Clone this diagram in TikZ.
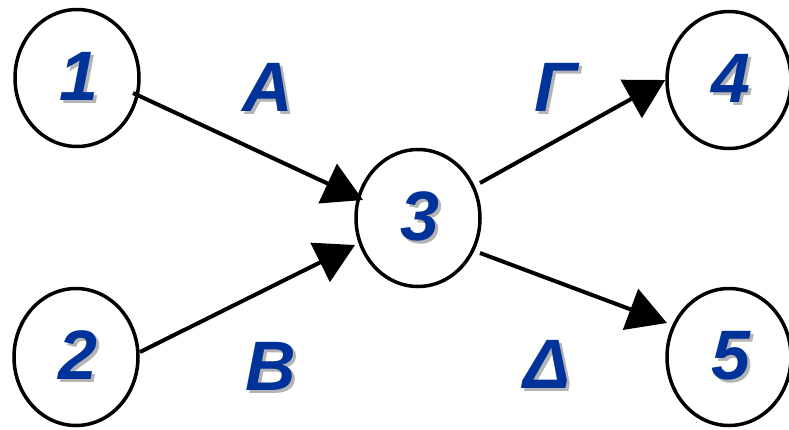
\documentclass[tikz,border=0pt]{standalone}
\usepackage{fontspec}
\setmainfont{Liberation Sans}
\usetikzlibrary{shapes.geometric,arrows.meta,calc}
\definecolor{nblue}{HTML}{003399}
\definecolor{shadowgray}{HTML}{B4B4B4}
\newcommand\shd[1]{\makebox[0pt][l]{\hspace{3pt}\raisebox{-3pt}{\color{shadowgray}#1}}{\color{nblue}#1}}
\newcommand\nshd[1]{\hspace{4pt}\raisebox{-3pt}{\shd{#1}}}
\tikzset{
  stnode/.style={ellipse, draw=black, line width=3.5pt, minimum width=124pt, minimum height=137pt, inner sep=0pt,
    font=\fontsize{70}{70}\selectfont\bfseries\itshape},
  lbltext/.style={inner sep=0pt, font=\fontsize{70}{70}\selectfont\bfseries\itshape},
  conn/.style={line width=4pt, -{Triangle[length=39pt,width=43pt]}}
}
\begin{document}
\begin{tikzpicture}[x=1pt,y=-1pt]
\useasboundingbox (0,0) rectangle (789,429);
\clip (0,0) rectangle (789,429);
\node[stnode] (n1) at (77,78) {\nshd{1}};
\node[stnode] (n2) at (76,357) {\nshd{2}};
\node[stnode] (n3) at (418,218) {\nshd{3}};
\node[stnode] (n4) at (729,80) {\nshd{4}};
\node[stnode] (n5) at (729,357) {\nshd{5}};
\node[lbltext] (la) at (268,89) {\shd{A}};
\node[lbltext] (lb) at (271,368) {\shd{B}};
\node[lbltext] (lg) at (556,89) {\shd{Γ}};
\node[lbltext] (ld) at (547,366) {\shd{Δ}};
\draw[conn] ($(n1.center)+(56,15)$) -- ($(n3.center)+(-55,-18)$);
\draw[conn] ($(n2.center)+(64,-5)$) -- ($(n3.center)+(-63,27)$);
\draw[conn] ($(n3.center)+(62,-35)$) -- (n4.west);
\draw[conn] ($(n3.center)+(62,35)$) -- ($(n5.center)+(-62,-34)$);
\end{tikzpicture}
\end{document}
